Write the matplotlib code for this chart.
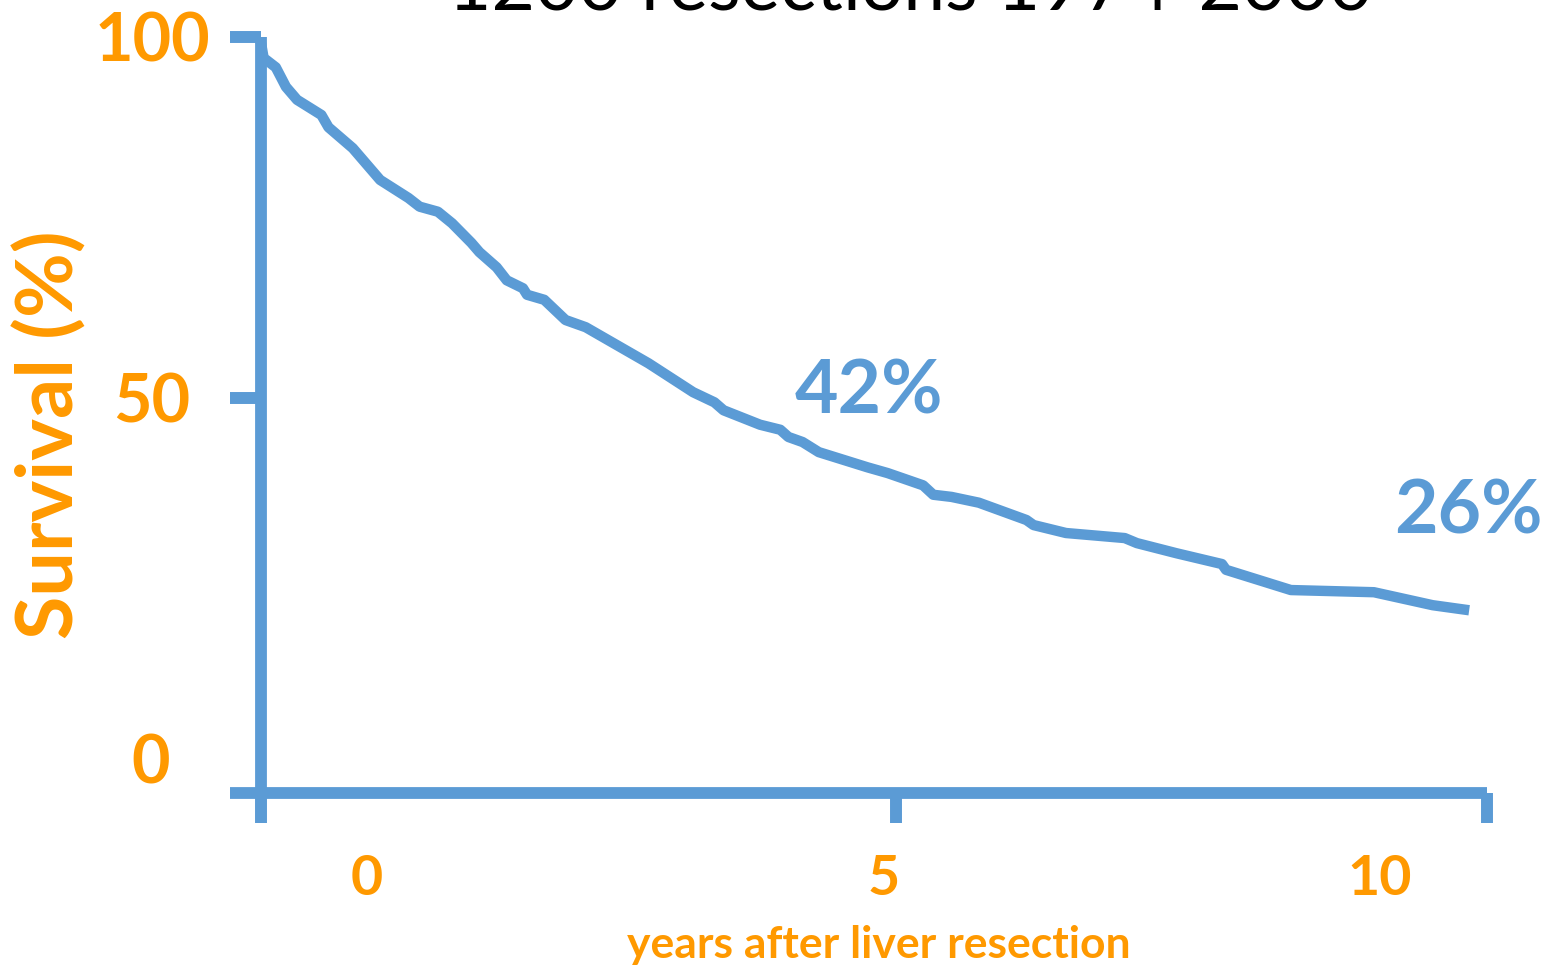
import matplotlib
matplotlib.use("Agg")
import matplotlib.pyplot as plt
from matplotlib.transforms import ScaledTranslation

BLUE = "#5B9BD5"
ORANGE = "#FF9900"

plt.rcParams['font.family'] = ['Lato', 'DejaVu Sans']
plt.rcParams['font.weight'] = 'bold'

# survival curve, in axis units (years after resection, % alive)
years = [-1.05, -1.02, -0.90, -0.80, -0.69, -0.45, -0.38, -0.14, 0.13, 0.41,
         0.52, 0.70, 0.84, 1.03, 1.11, 1.28, 1.38, 1.54, 1.58, 1.75,
         1.96, 2.16, 2.47, 2.78, 3.22, 3.43, 3.52, 3.88, 4.08, 4.16, 4.30,
         4.46, 4.94, 5.14, 5.49, 5.59, 5.77, 6.04, 6.51, 6.58, 6.90,
         7.48, 7.60, 7.99, 8.44, 8.48, 9.12, 9.94, 10.52, 10.88]
survival = [99.5, 97.1, 95.8, 93.1, 91.3, 89.2, 87.5, 84.6, 80.2, 77.7,
            76.5, 75.8, 74.2, 71.5, 70.2, 68.1, 66.3, 65.2, 64.3, 63.6,
            60.8, 59.8, 57.3, 54.8, 50.8, 49.4, 48.3, 46.3, 45.6, 44.6, 43.9,
            42.5, 40.4, 39.6, 37.9, 36.6, 36.3, 35.5, 33.1, 32.4, 31.3,
            30.6, 29.9, 28.5, 27.0, 26.2, 23.4, 23.1, 21.3, 20.6]

x_ticks = [0, 5, 10]
x_tick_labels = ['0', '5', '10']
y_ticks = [0, 50, 100]
y_tick_labels = ['0', '50', '100']

surv_5y = 42
surv_10y = 26

title = "1200 resections 1974-2000"

fig = plt.figure(figsize=(15.45, 9.67), dpi=100)
ax = fig.add_axes([230 / 1545, 1 - 793 / 967, 1257 / 1545, 756 / 967])

ax.plot(years, survival, color=BLUE, lw=7.5, solid_joinstyle='round',
        solid_capstyle='butt', clip_on=False)

x0 = -1.046
ax.set_xlim(-1.352, 11.056)
ax.set_ylim(-4.71, 100)

for s in ['top', 'right']:
    ax.spines[s].set_visible(False)
ax.spines['left'].set_position(('data', x0))
for s in ['left', 'bottom']:
    ax.spines[s].set_color(BLUE)
    ax.spines[s].set_linewidth(8.5)
    ax.spines[s].set_capstyle('butt')

# y axis
ax.set_yticks(y_ticks)
ax.set_yticklabels(y_tick_labels)
ax.tick_params(axis='y', direction='out', length=22.3, width=8.6, color=BLUE,
               pad=14.4, labelsize=48, labelcolor=ORANGE)
ax.yaxis.get_major_ticks()[0].tick1line.set_visible(False)
for lab, dx in zip(ax.get_yticklabels(), [-0.40, -0.20, 0.0]):
    lab.set_transform(lab.get_transform() + ScaledTranslation(dx, 0, fig.dpi_scale_trans))

# x axis: marks and labels sit at different places
ax.set_xticks([x0, 5.222, 11.056])
ax.set_xticklabels(['', '', ''])
ax.set_xticks(x_ticks, minor=True)
ax.set_xticklabels(x_tick_labels, minor=True)
ax.tick_params(axis='x', which='major', direction='out', length=21.6, width=8.6,
               color=BLUE)
ax.tick_params(axis='x', which='minor', length=0, pad=44, labelsize=40,
               labelcolor=ORANGE)
for lab, dx in zip(ax.get_xticklabels(minor=True), [0.0, 0.10, 0.0]):
    lab.set_transform(lab.get_transform() + ScaledTranslation(dx, 0, fig.dpi_scale_trans))

ax.text(4.95, 47.9, f"{surv_5y}%", ha='center', va='baseline', fontsize=54,
        color=BLUE, fontweight='bold')
ax.text(10.87, 31.3, f"{surv_10y}%", ha='center', va='baseline', fontsize=54,
        color=BLUE, fontweight='bold', clip_on=False)

fig.text(879 / 1545, 1 - 958 / 967, "years after liver resection", ha='center',
         va='baseline', fontsize=32, color=ORANGE, fontweight='bold')
fig.text(50 / 1545, 1 - 435 / 967, "Survival (%)", rotation=90, ha='center',
         va='center', fontsize=57, color=ORANGE, fontweight='bold')
fig.text(910 / 1545, 1 - 9 / 967, title, ha='center', va='baseline',
         fontsize=54, color='black', fontweight='normal')

fig.savefig("out.png", dpi=100)
